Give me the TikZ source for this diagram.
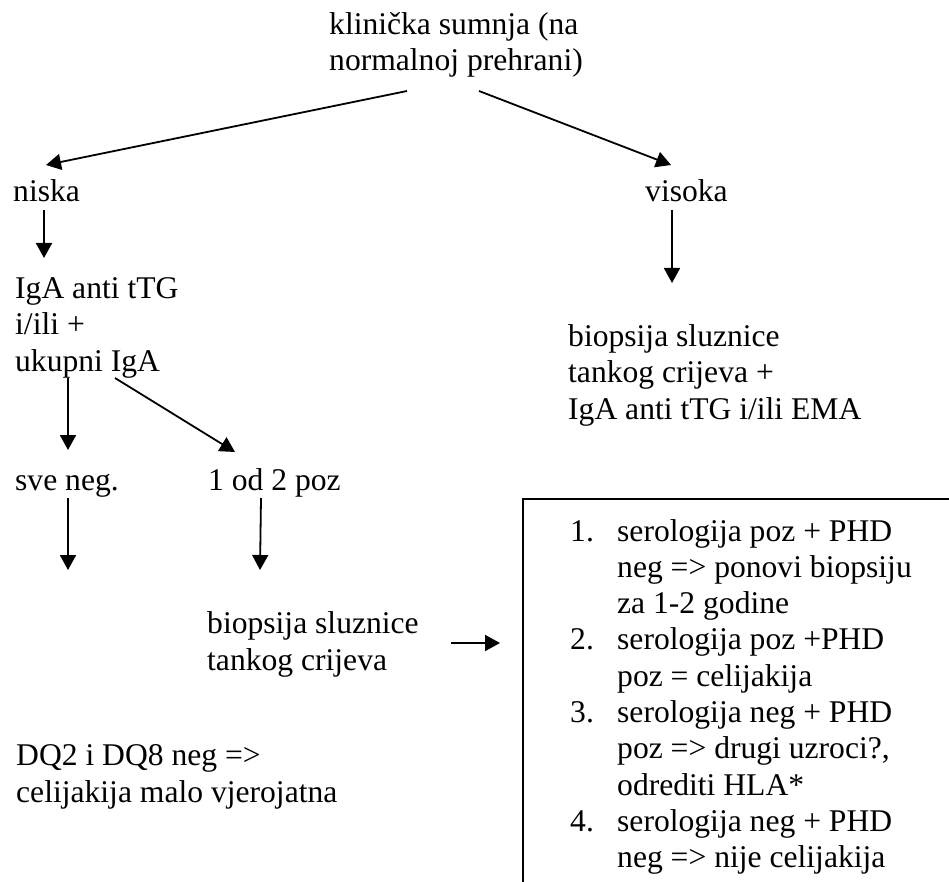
\documentclass[tikz,border=0pt]{standalone}
\usepackage{fontspec}
\setmainfont{Liberation Serif}
\usetikzlibrary{positioning}
\usetikzlibrary{calc}
\usetikzlibrary{arrows.meta}

\tikzset{
    txt/.style={anchor=base west, inner sep=0, align=left,
        font=\fontsize{31.6}{36.5}\selectfont},
    arr/.style={line width=1.8pt, -{Triangle[length=15pt, width=16pt]}},
}

\begin{document}
\begin{tikzpicture}[x=1pt, y=-1pt]
    \newcommand\listgap{47pt}

    \useasboundingbox (0, 0) rectangle (949, 882);
    \clip (0, 0) rectangle (949, 882);

    % multi-line nodes sit on the baseline of their last line
    \node[txt] (klin) at (329, 71) {klinička sumnja (na\\normalnoj prehrani)};
    \node[txt] (niska) at (13, 202) {niska};
    \node[txt] (visoka) at (645, 202) {visoka};
    \node[txt] (iga) at (15, 371) {IgA anti tTG\\i/ili +\\ukupni IgA};
    \node[txt] (desno) at (568, 419)
        {biopsija sluznice\\tankog crijeva +\\IgA anti tTG i/ili EMA};
    \node[txt] (sveneg) at (15, 490) {sve neg.};
    \node[txt] (jedan) at (208, 490) {1 od 2 poz};
    \node[txt] (biop) at (207, 670) {biopsija sluznice\\tankog crijeva};
    \node[txt] (dq) at (16, 802) {DQ2 i DQ8 neg =>\\celijakija malo vjerojatna};

    % box on the right, its bottom runs off the page
    \draw[line width=1.5pt] (523, 499) coordinate (box-tl) rectangle (951, 900);

    \node[txt, font=\fontsize{31.6}{36.3}\selectfont] (lista) at (570, 541) {%
        \begin{tabular}[t]{@{}p{\listgap}@{}l@{}}
            1. & serologija poz + PHD\\
               & neg => ponovi biopsiju\\
               & za 1-2 godine\\
            2. & serologija poz +PHD\\
               & poz = celijakija\\
            3. & serologija neg + PHD\\
               & poz => drugi uzroci?,\\
               & odrediti HLA*\\
            4. & serologija neg + PHD\\
               & neg => nije celijakija
        \end{tabular}};

    \draw[arr] ($(klin.base west)+(78, 20)$) -- ($(niska.base west)+(33, -37)$);
    \draw[arr] ($(klin.base west)+(150, 20)$) -- ($(visoka.base west)+(26, -37)$);
    \draw[arr] ($(niska.base west)+(31, 8)$) -- ($(iga.base west)+(29, -113)$);
    \draw[arr] ($(visoka.base west)+(27, 8)$) -- ($(desno.base west)+(104, -136)$);
    \draw[arr] ($(iga.base west)+(53, 7)$) -- ($(sveneg.base west)+(53, -40)$);
    \draw[arr] ($(iga.base west)+(100, 7)$) -- ($(jedan.base west)+(27, -38)$);
    \draw[arr] ($(sveneg.base west)+(53, 8)$) -- ($(dq.base west)+(52, -232)$);
    \draw[arr] ($(jedan.base west)+(53, 8)$) -- ($(biop.base west)+(53, -100)$);
    \draw[arr] ($(biop.base west)+(244, -27)$) -- ($(lista.base west)+(-70, 102)$);
\end{tikzpicture}
\end{document}
